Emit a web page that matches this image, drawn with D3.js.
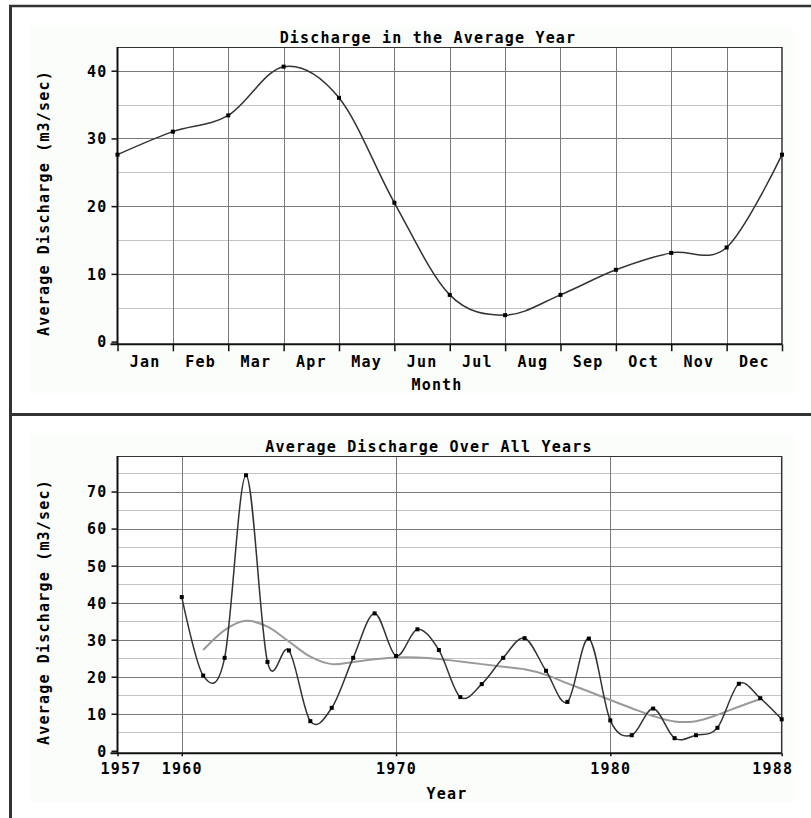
<!DOCTYPE html>
<html><head><meta charset="utf-8">
<script src="https://cdn.jsdelivr.net/npm/d3@7"></script>
<style>
body{margin:0;background:#fff;}
svg text{font-family:"DejaVu Sans Mono",monospace;font-weight:bold;font-size:15px;letter-spacing:1.2px;fill:#000;}
</style></head><body>
<svg id="c" width="811" height="818"></svg>
<script>
// ---- Data ----
const monthLabels = ["Jan","Feb","Mar","Apr","May","Jun","Jul","Aug","Sep","Oct","Nov","Dec"];
const monthPositions = [0,1,2,3,4,5,6,7,8,9,10,11,12];
const monthlyDischarge = [27.6,31.0,33.4,40.6,36.0,20.5,6.9,3.9,6.9,10.6,13.1,13.9,27.6];
const topYMajor = [0,10,20,30,40];
const topYMinor = [5,15,25,35];

const years = [1960,1961,1962,1963,1964,1965,1966,1967,1968,1969,1970,1971,1972,1973,1974,1975,1976,1977,1978,1979,1980,1981,1982,1983,1984,1985,1986,1987,1988];
const annualDischarge = [41.5,20.3,25.1,74.4,24.0,27.1,8.0,11.6,25.1,37.1,25.6,32.8,27.2,14.5,18.0,25.1,30.4,21.6,13.2,30.3,8.2,4.2,11.4,3.4,4.2,6.2,18.1,14.2,8.5];
const trendYears = [1961,1962,1963,1964,1965,1966,1967,1968,1969,1970,1971,1972,1973,1974,1975,1976,1977,1978,1979,1980,1981,1982,1983,1984,1985,1986,1987];
const trendDischarge = [27.2,32.6,35.1,33.5,29.5,25.4,23.4,24.0,24.7,25.2,25.2,24.8,24.1,23.4,22.7,22.0,20.5,18.2,16.0,13.7,11.5,9.4,7.9,8.0,9.7,11.9,14.0];
const yearTicks = [1957,1960,1970,1980,1988];
const yearGrid = [1960,1970,1980];
const botYMajor = [0,10,20,30,40,50,60,70];
const botYMinor = [5,15,25,35,45,55,65,75];

const svg = d3.select("#c");
const MAJ = "#7a7a7a", MIN = "#c4c4c4";

// Panel backgrounds & frame
svg.append("rect").attr("x",30).attr("y",27).attr("width",763).attr("height",366).attr("fill","#fbfdfb");
svg.append("rect").attr("x",30).attr("y",433).attr("width",763).attr("height",369).attr("fill","#fbfdfb");
svg.append("line").attr("x1",9).attr("x2",811).attr("y1",6).attr("y2",6).attr("stroke","#333").attr("stroke-width",2.5);
svg.append("line").attr("x1",10.5).attr("x2",10.5).attr("y1",5).attr("y2",818).attr("stroke","#333").attr("stroke-width",3);
svg.append("line").attr("x1",9).attr("x2",811).attr("y1",414.5).attr("y2",414.5).attr("stroke","#333").attr("stroke-width",3);

function panel(cfg){
  const g = svg.append("g");
  const {x, y, L, R, T, B} = cfg;
  g.append("rect").attr("x",L).attr("y",T).attr("width",R-L).attr("height",B-T).attr("fill","#fff");
  g.selectAll(".mn").data(cfg.yMinor).join("line")
    .attr("x1",L).attr("x2",R).attr("y1",d=>Math.round(y(d))+0.5).attr("y2",d=>Math.round(y(d))+0.5)
    .attr("stroke",MIN).attr("stroke-width",1);
  g.selectAll(".mj").data(cfg.yMajor.filter(d=>d>0)).join("line")
    .attr("x1",L).attr("x2",R).attr("y1",d=>Math.round(y(d))+0.5).attr("y2",d=>Math.round(y(d))+0.5)
    .attr("stroke",MAJ).attr("stroke-width",1);
  g.selectAll(".vg").data(cfg.xGrid).join("line")
    .attr("x1",d=>Math.round(x(d))+0.5).attr("x2",d=>Math.round(x(d))+0.5).attr("y1",T).attr("y2",B)
    .attr("stroke",MAJ).attr("stroke-width",1);
  g.append("line").attr("x1",L).attr("x2",R).attr("y1",T+0.5).attr("y2",T+0.5).attr("stroke","#333").attr("stroke-width",1.2);
  g.append("line").attr("x1",R).attr("x2",R).attr("y1",T).attr("y2",B).attr("stroke","#333").attr("stroke-width",1.5);
  const ya = d3.axisLeft(y).tickValues(cfg.yMajor).tickSize(6).tickPadding(4).tickFormat(d3.format("d"));
  const yg = g.append("g").attr("transform",`translate(${L},0)`).call(ya);
  yg.attr("font-family",null).attr("font-size",null);
  yg.select(".domain").attr("stroke","#111").attr("stroke-width",2).attr("d",`M0,${T}V${B}`);
  yg.selectAll(".tick line").attr("stroke","#111").attr("stroke-width",1.5);
  yg.selectAll(".tick text").attr("dy","0.36em");
  const xa = d3.axisBottom(x).tickValues(cfg.xTicks).tickSize(cfg.xTickLen).tickFormat(cfg.xTickFormat || (d=>""));
  const xg = g.append("g").attr("transform",`translate(0,${B})`).call(xa);
  xg.attr("font-family",null).attr("font-size",null);
  xg.select(".domain").attr("stroke","#111").attr("stroke-width",2).attr("d",`M${L-7},0H${R}`);
  xg.selectAll(".tick line").attr("stroke","#111").attr("stroke-width",1.5);
  g.append("text").attr("x",cfg.titleX).attr("y",cfg.titleY).attr("text-anchor","middle").text(cfg.title);
  g.append("text").attr("transform",`translate(${cfg.ylabX},${cfg.ylabY}) rotate(-90)`).attr("text-anchor","middle").text("Average Discharge (m3/sec)");
  g.append("text").attr("x",cfg.xlabX).attr("y",cfg.xlabY).attr("text-anchor","middle").text(cfg.xlab);
  return {g, xg};
}

// ---- Top chart ----
const xT = d3.scaleLinear().domain([0,12]).range([117.5,782]);
const yT = d3.scaleLinear().domain([-0.4,43.5]).range([344.3,47]);
const topPanel = panel({x:xT,y:yT,L:117.5,R:782,T:47,B:344.3,yMajor:topYMajor,yMinor:topYMinor,
  xGrid:monthPositions.slice(1,12),xTicks:monthPositions,xTickLen:7,
  title:"Discharge in the Average Year",titleX:428,titleY:42.5,ylabX:49,ylabY:203,xlab:"Month",xlabX:437,xlabY:390});
topPanel.g.selectAll(".mlab").data(monthLabels).join("text")
  .attr("x",(d,i)=>xT(monthPositions[i]+0.5)).attr("y",367).attr("text-anchor","middle").text(d=>d);
const lineT = d3.line().x((d,i)=>xT(monthPositions[i])).y(d=>yT(d)).curve(d3.curveCardinal.tension(0));
topPanel.g.append("path").datum(monthlyDischarge).attr("d",lineT).attr("fill","none").attr("stroke","#333").attr("stroke-width",1.5);
topPanel.g.selectAll(".pt").data(monthlyDischarge).join("rect")
  .attr("x",(d,i)=>xT(monthPositions[i])-2).attr("y",d=>yT(d)-2).attr("width",4).attr("height",4).attr("fill","#000");

// ---- Bottom chart ----
const xB = d3.scaleLinear().domain([1957,1988]).range([117.5,781.7]);
const yB = d3.scaleLinear().domain([-0.68,79.6]).range([753.3,456]);
const botPanel = panel({x:xB,y:yB,L:117.5,R:781.7,T:456,B:753.3,yMajor:botYMajor,yMinor:botYMinor,
  xGrid:yearGrid,xTicks:yearTicks,xTickLen:3,xTickFormat:d3.format("d"),
  title:"Average Discharge Over All Years",titleX:429,titleY:451.5,ylabX:49,ylabY:612,xlab:"Year",xlabX:447,xlabY:799});
botPanel.xg.selectAll(".tick text").attr("y",10).attr("dy","0.71em");
botPanel.xg.selectAll(".tick").filter(d=>d===1988).select("text").attr("text-anchor","end").attr("x",11);
botPanel.xg.selectAll(".tick").filter(d=>d===1957).select("text").attr("x",3);
const lineTrend = d3.line().x((d,i)=>xB(trendYears[i])).y(d=>yB(d)).curve(d3.curveCardinal.tension(0));
botPanel.g.append("path").datum(trendDischarge).attr("d",lineTrend).attr("fill","none").attr("stroke","#9a9a9a").attr("stroke-width",2);
const lineB = d3.line().x((d,i)=>xB(years[i])).y(d=>yB(d)).curve(d3.curveCardinal.tension(0));
botPanel.g.append("path").datum(annualDischarge).attr("d",lineB).attr("fill","none").attr("stroke","#333").attr("stroke-width",1.5);
botPanel.g.selectAll(".pt").data(annualDischarge).join("rect")
  .attr("x",(d,i)=>xB(years[i])-2).attr("y",d=>yB(d)-2).attr("width",4).attr("height",4).attr("fill","#000");
</script>
</body></html>
